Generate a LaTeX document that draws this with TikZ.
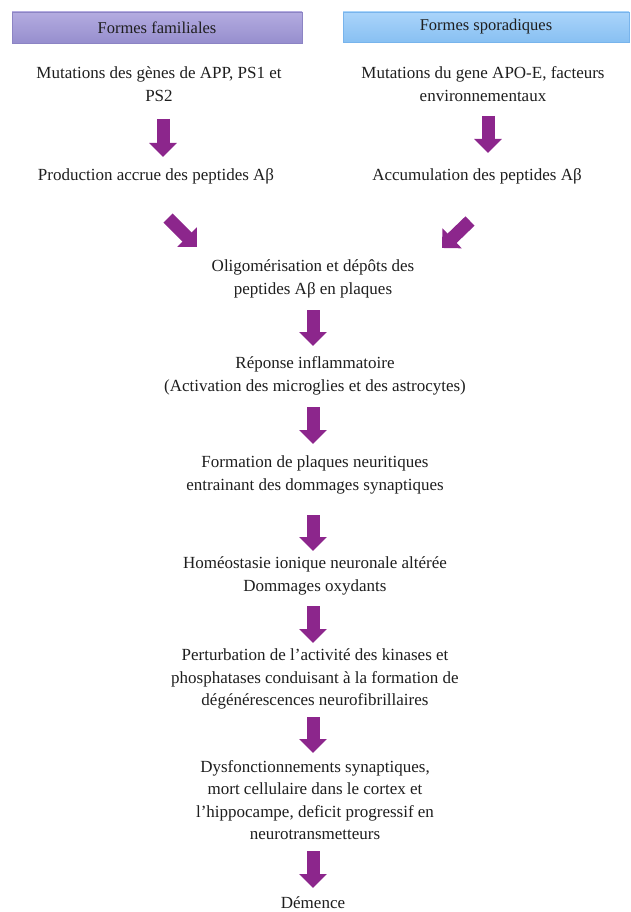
\documentclass[tikz,border=0pt]{standalone}
\usepackage{fontspec}
\setmainfont{Liberation Serif}
\usetikzlibrary{arrows.meta}
\definecolor{arrowpurple}{RGB}{140,38,140}
\definecolor{famtop}{RGB}{180,172,224}
\definecolor{fambot}{RGB}{150,142,206}
\definecolor{famborder}{RGB}{140,132,196}
\definecolor{sportop}{RGB}{170,212,250}
\definecolor{sporbot}{RGB}{136,192,242}
\definecolor{sporborder}{RGB}{120,180,236}
\definecolor{txt}{RGB}{30,30,30}
\tikzset{
  x=1pt, y=-1pt,
  txtnode/.style={align=center, inner sep=0pt, text=txt, font=\fontsize{17}{22.5}\selectfont},
  headtext/.style={inner sep=0pt, text=txt, font=\fontsize{16.5}{20}\selectfont},
  blockarrow/.style={line width=13pt, arrowpurple,
    -{Triangle[width=27pt,length=14pt]}},
}
\begin{document}
\begin{tikzpicture}
\useasboundingbox (0,0) rectangle (631,912);
% headers
\shade[top color=famtop, bottom color=fambot, draw=famborder, line width=0.6pt]
  (12,12) rectangle (302,43);
\node[headtext] (famhead) at (157,28) {Formes familiales};
\shade[top color=sportop, bottom color=sporbot, draw=sporborder, line width=0.6pt]
  (343,12) rectangle (629,42);
\node[headtext] (sporhead) at (486,27) {Formes sporadiques};
% texts
\node[txtnode] (mutl) at (159,84) {Mutations des gènes de APP, PS1 et\\PS2};
\node[txtnode] (mutr) at (483,84) {Mutations du gene APO-E, facteurs\\environnementaux};
\node[txtnode] (prod) at (156,176) {Production accrue des peptides Aβ};
\node[txtnode] (accu) at (477,176) {Accumulation des peptides Aβ};
\node[txtnode] (olig) at (313,279) {Oligomérisation et dépôts des\\peptides Aβ en plaques};
\node[txtnode] (infl) at (315,376) {Réponse inflammatoire\\(Activation des microglies et des astrocytes)};
\node[txtnode] (plaq) at (315,475) {Formation de plaques neuritiques\\entrainant des dommages synaptiques};
\node[txtnode] (home) at (315,576) {Homéostasie ionique neuronale altérée\\Dommages oxydants};
\node[txtnode] (pert) at (315,679) {Perturbation de l’activité des kinases et\\phosphatases conduisant à la formation de\\dégénérescences neurofibrillaires};
\node[txtnode] (dysf) at (315,800) {Dysfonctionnements synaptiques,\\mort cellulaire dans le cortex et\\l’hippocampe, deficit progressif en\\neurotransmetteurs};
\node[txtnode] (deme) at (313,903) {Démence};
% arrow endpoints
\coordinate (a1s) at (163,119); \coordinate (a1e) at (163,157);
\coordinate (a2s) at (488,116); \coordinate (a2e) at (488,153);
\coordinate (a3s) at (168,218); \coordinate (a3e) at (197,247);
\coordinate (a4s) at (470,221); \coordinate (a4e) at (442,248);
\coordinate (a5s) at (313,310); \coordinate (a5e) at (313,346);
\coordinate (a6s) at (313,407); \coordinate (a6e) at (313,444);
\coordinate (a7s) at (313,515); \coordinate (a7e) at (313,551);
\coordinate (a8s) at (313,606); \coordinate (a8e) at (313,643);
\coordinate (a9s) at (313,717); \coordinate (a9e) at (313,753);
\coordinate (a10s) at (313,851); \coordinate (a10e) at (313,888);
\foreach \i in {1,...,10} {
  \draw[blockarrow] (a\i s) -- (a\i e);
}
\end{tikzpicture}
\end{document}
